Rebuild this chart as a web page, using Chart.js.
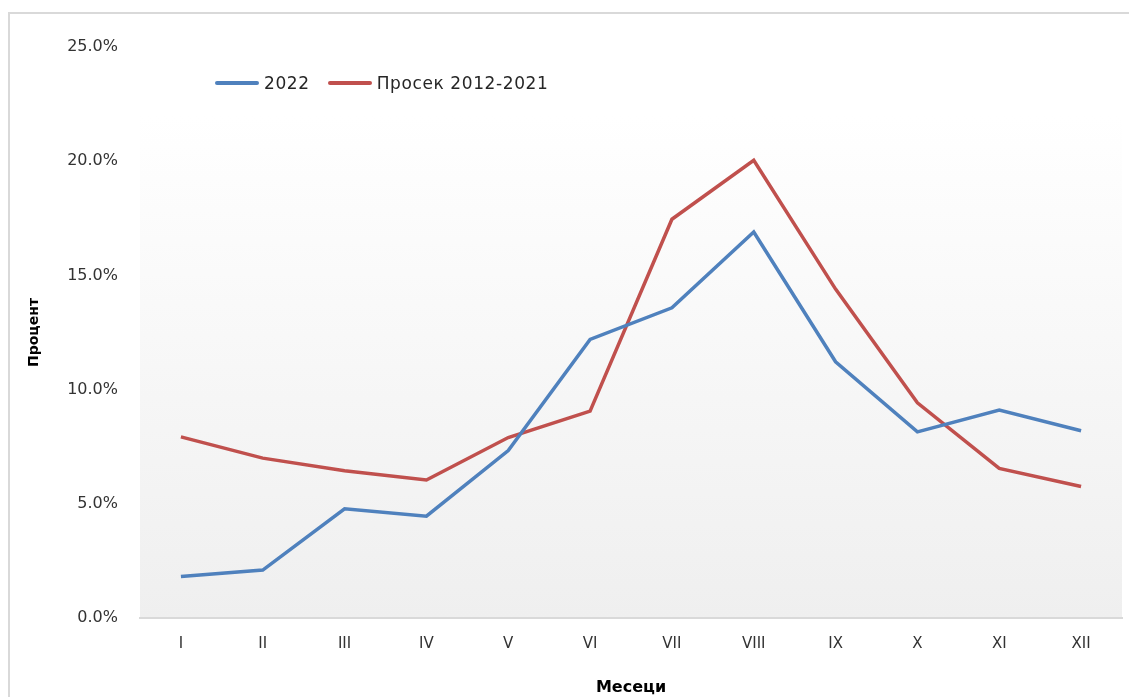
<!DOCTYPE html>
<html lang="mk">
<head>
  <meta charset="UTF-8">
  <title>Процент по месеци</title>
  <style>
    * {box-sizing:border-box;margin:0;padding:0;}
    body {background:#fff;width:1129px;height:697px;overflow:hidden;position:relative;font-family:'DejaVu Sans',sans-serif;}
    .frame {position:absolute;left:8px;top:12px;width:1121px;height:685px;border-top:2px solid #d9d9d9;border-left:2px solid #d9d9d9;}
    .wrap {position:absolute;left:0;top:0;width:1129px;height:697px;}
    .legend {position:absolute;left:215px;top:73px;display:flex;align-items:center;font-size:17px;letter-spacing:0.6px;color:#262626;}
    .legend span.item {display:flex;align-items:center;margin-right:18px;}
    .legend i {display:inline-block;width:44px;height:4px;margin-right:5px;border-radius:2px;}
  </style>
</head>
<body>
  <div class="frame"></div>
  <div class="wrap"><canvas id="chart"></canvas></div>
  <div class="legend" id="legend"></div>
  <script src="https://cdn.jsdelivr.net/npm/chart.js@4.4.0/dist/chart.umd.min.js"></script>
  <script>
    const months = ['I','II','III','IV','V','VI','VII','VIII','IX','X','XI','XII'];
    const series2022 = [1.82, 2.1, 4.78, 4.46, 7.33, 12.2, 13.58, 16.9, 11.22, 8.15, 9.1, 8.2];
    const seriesAvg = [7.93, 7.0, 6.45, 6.04, 7.9, 9.06, 17.46, 20.04, 14.4, 9.42, 6.55, 5.76];
    const seriesNames = ['2022', 'Просек 2012-2021'];
    const seriesColors = ['#4f81bd', '#c0504d'];
    const yTicksMax = 25, yTicksStep = 5;

    const plotBg = {
      id:'plotBg',
      beforeDraw(chart){
        const {ctx, chartArea:a} = chart;
        const g = ctx.createLinearGradient(0, a.top, 0, a.bottom);
        g.addColorStop(0, '#ffffff');
        g.addColorStop(0.12, '#ffffff');
        g.addColorStop(1, '#efefef');
        ctx.save();
        ctx.fillStyle = g;
        ctx.fillRect(a.left, a.top, a.right - a.left, a.bottom - a.top);
        ctx.restore();
      }
    };

    const datasets = [series2022, seriesAvg].map((d, i) => ({
      label: seriesNames[i], data: d,
      borderColor: seriesColors[i], backgroundColor: seriesColors[i],
      borderWidth: 3.5, pointRadius: 0, tension: 0, fill: false
    }));

    const chart = new Chart(document.getElementById('chart'), {
      type:'line',
      data:{labels:months, datasets},
      options:{
        responsive:true, maintainAspectRatio:false, animation:false,
        layout:{padding:{left:20, top:47, right:7, bottom:0}},
        plugins:{legend:{display:false}, tooltip:{enabled:false}},
        scales:{
          x:{
            offset:true,
            grid:{display:false, drawTicks:false},
            border:{display:true, color:'#d9d9d9', width:2},
            ticks:{color:'#333', padding:17, font:{family:'DejaVu Sans', size:15}},
            title:{display:true, text:'Месеци', color:'#000', padding:{top:0,bottom:0}, font:{family:'DejaVu Sans', size:16, weight:'bold'}},
            afterFit(s){ s.height = 79; }
          },
          y:{
            min:0, max:yTicksMax,
            grid:{display:false, drawTicks:false},
            border:{display:false},
            ticks:{stepSize:yTicksStep, color:'#333', padding:22, font:{family:'DejaVu Sans', size:16},
              callback:v => v.toFixed(1) + '%'},
            title:{display:true, text:'Процент', color:'#000', padding:{top:6,bottom:0}, font:{family:'DejaVu Sans', size:14, weight:'bold'}},
            afterFit(s){ s.width = 120; }
          }
        }
      },
      plugins:[plotBg]
    });

    const legend = document.getElementById('legend');
    seriesNames.forEach((n, i) => {
      const item = document.createElement('span');
      item.className = 'item';
      item.innerHTML = '<i style="background:' + seriesColors[i] + '"></i>' + n;
      legend.appendChild(item);
    });
  </script>
</body>
</html>
